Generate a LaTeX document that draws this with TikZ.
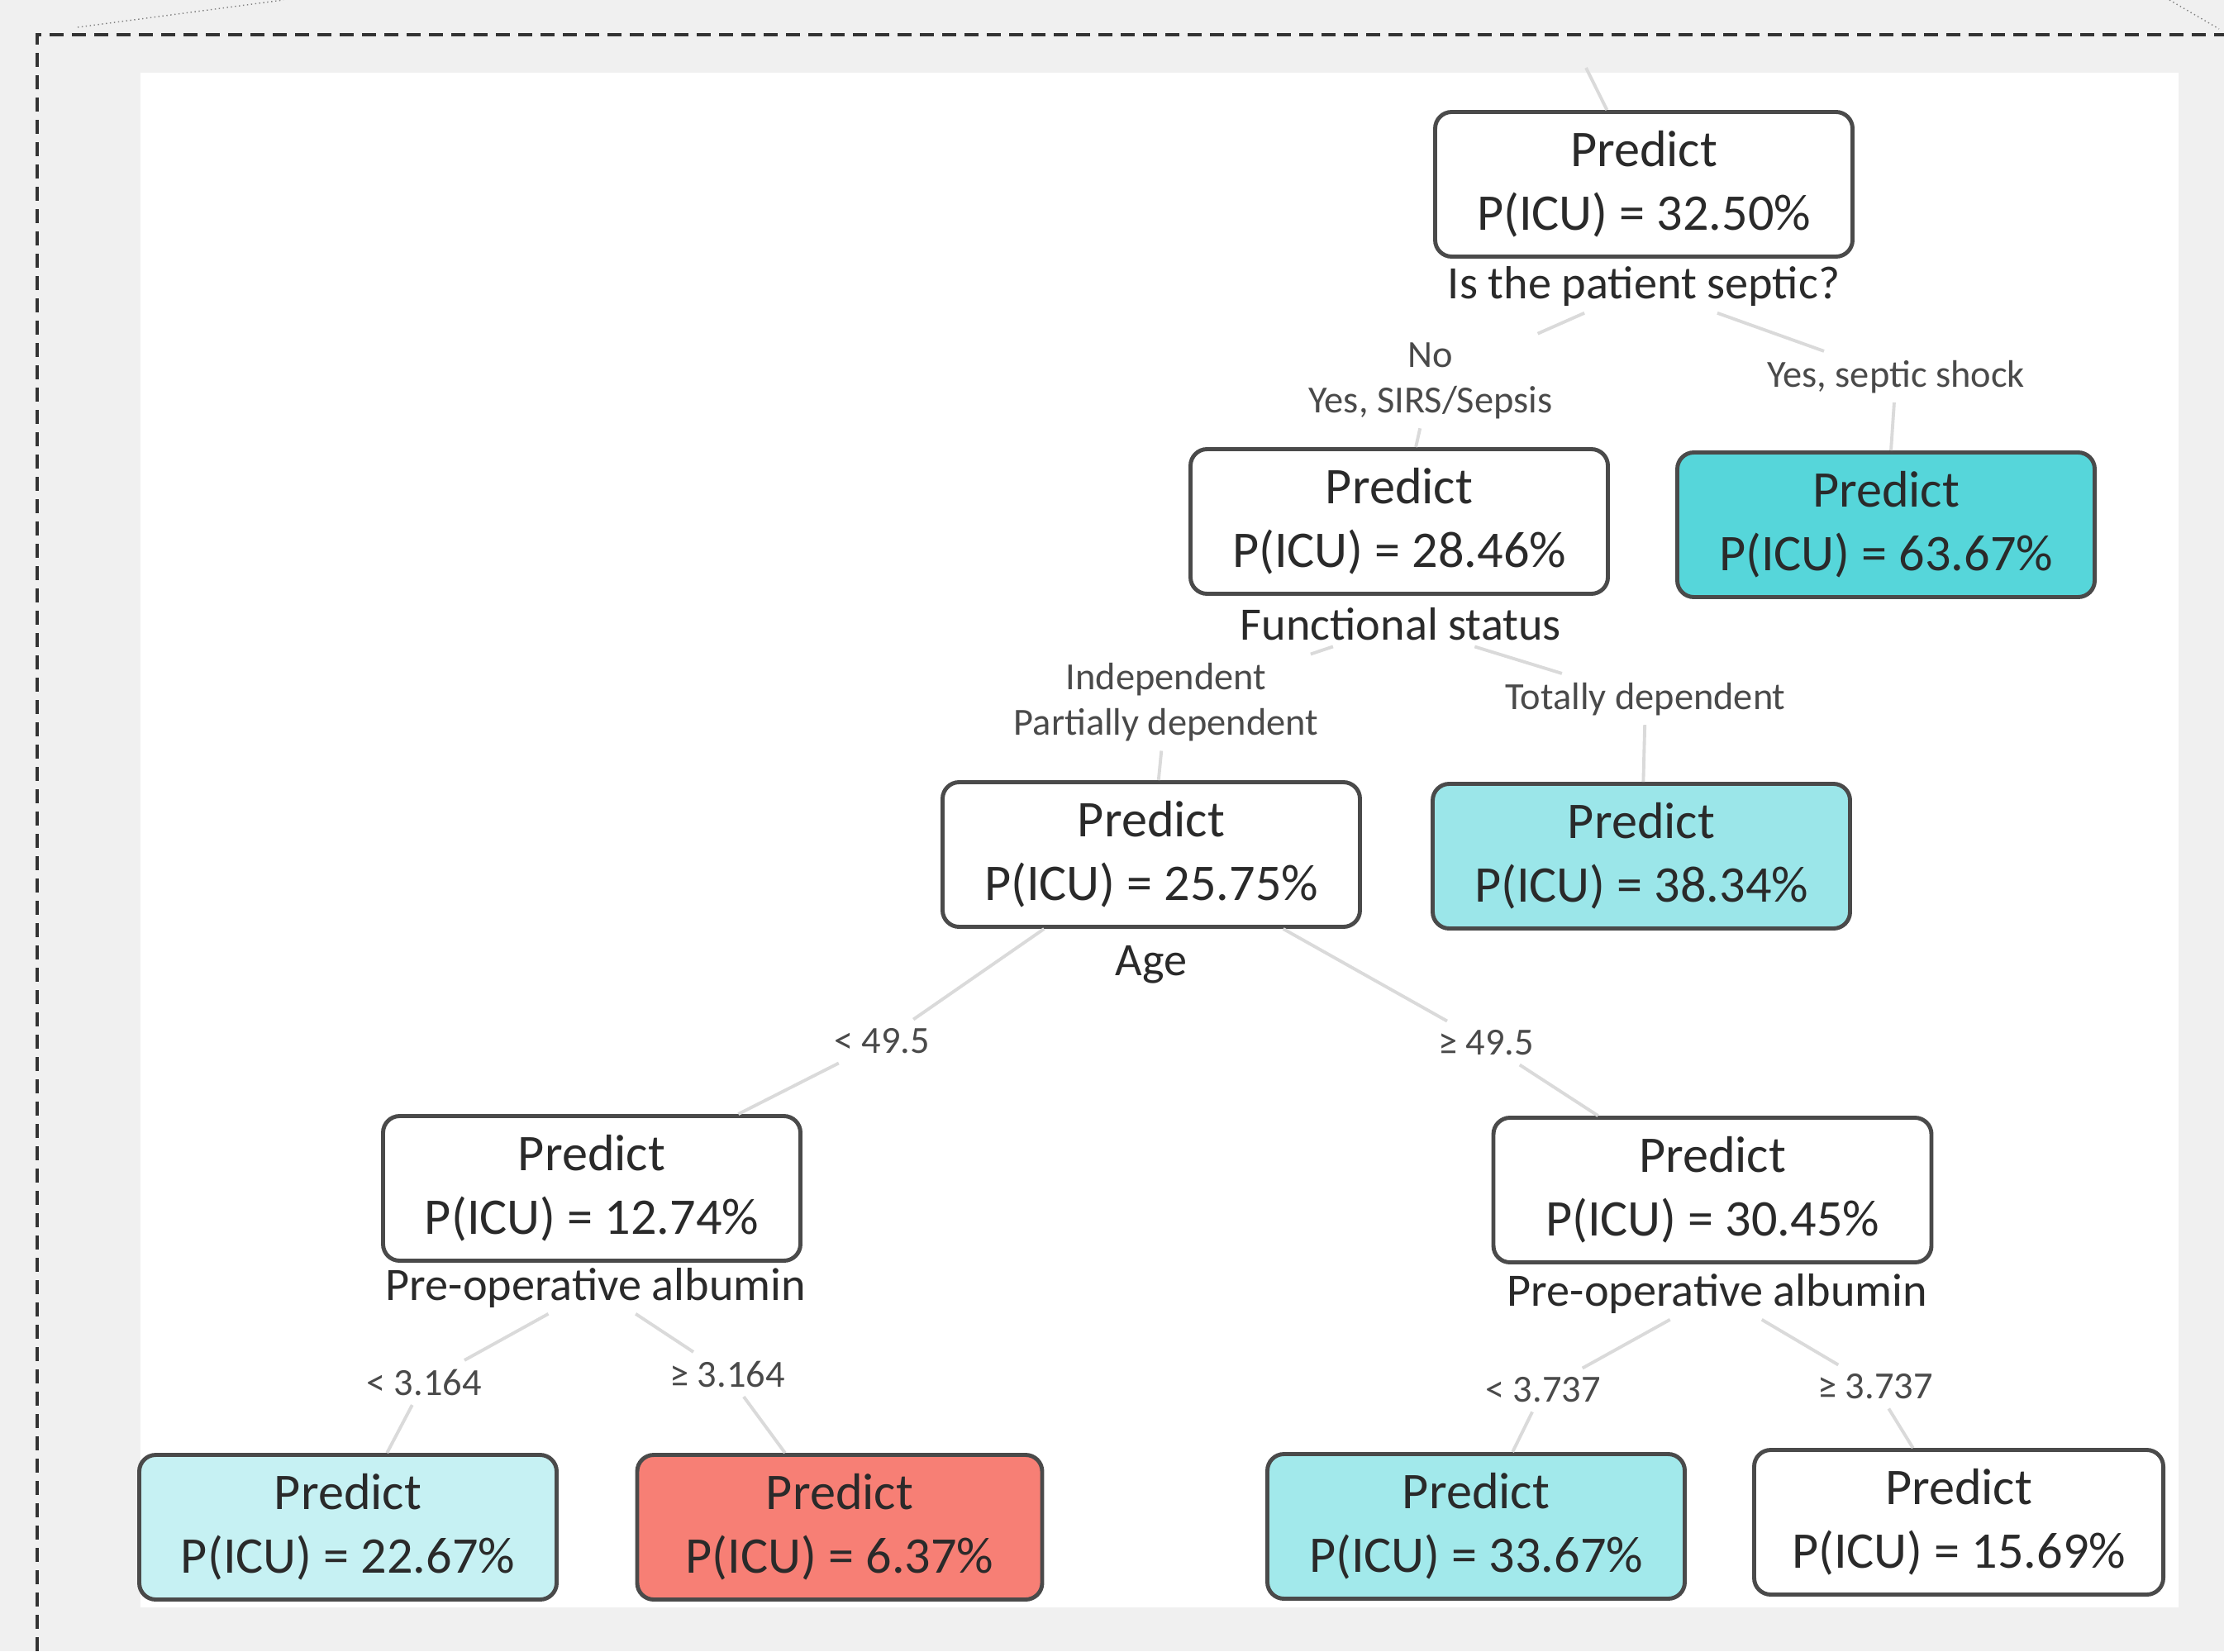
\documentclass[tikz,border=0pt]{standalone}
\usepackage{fontspec}
\setmainfont{Carlito}
\usepackage{tikz}
\usetikzlibrary{calc}

\definecolor{panelgray}{HTML}{F0F0F0}
\definecolor{boxline}{HTML}{4A4A4A}
\definecolor{txtgray}{HTML}{2A2A2A}
\definecolor{lblgray}{HTML}{4A4A4A}
\definecolor{edgegray}{HTML}{DADADA}
\definecolor{tealA}{HTML}{56D6DA}
\definecolor{tealB}{HTML}{9BE6E9}
\definecolor{tealC}{HTML}{A2E9EB}
\definecolor{tealD}{HTML}{C6F1F3}
\definecolor{salmon}{HTML}{F77F75}

\begin{document}
\begin{tikzpicture}[
    leaf/.style={draw=boxline, line width=1.4pt, rounded corners=0.2cm, fill=white, minimum width=5.05cm, minimum height=1.75cm, align=center, text=txtgray, font=\fontsize{17.7}{22}\selectfont},
    split/.style={text=txtgray, inner sep=2pt, font=\fontsize{16}{19}\selectfont},
    cond/.style={text=lblgray, align=center, inner sep=3pt, font=\fontsize{13.2}{15.6}\selectfont},
    edge/.style={draw=edgegray, line width=1.1pt}
]
    % background, panel and dashed frame
    \fill[panelgray] (0, 0) rectangle (26.91, -19.98);
    \useasboundingbox (0, 0) rectangle (26.91, -19.98);
    \fill[white] (1.70, -0.88) rectangle (26.36, -19.45);
    \draw[line width=1.1pt, black!80, dash pattern=on 0.17cm off 0.1cm] (0.45, -19.98) -- (0.45, -0.42) -- (26.91, -0.42);
    \draw[gray, densely dotted] (0.94, -0.33) -- (3.43, 0);
    \draw[gray, densely dotted] (26.25, 0) -- (26.85, -0.35);

    % tree nodes
    \node[leaf] (root) at (19.89, -2.23) {Predict\\P(ICU) = 32.50\%};
    \node[split] (s0) at (19.89, -3.47) {Is the patient septic?};

    \node[leaf] (n1) at (16.93, -6.31) {Predict\\P(ICU) = 28.46\%};
    \node[split] (s1) at (16.95, -7.55) {Functional status};
    \node[leaf, fill=tealA] (n2) at (22.82, -6.35) {Predict\\P(ICU) = 63.67\%};

    \node[leaf] (n3) at (13.93, -10.34) {Predict\\P(ICU) = 25.75\%};
    \node[split] (s3) at (13.93, -11.67) {Age};
    \node[leaf, fill=tealB] (n4) at (19.86, -10.36) {Predict\\P(ICU) = 38.34\%};

    \node[leaf] (n5) at (7.16, -14.38) {Predict\\P(ICU) = 12.74\%};
    \node[split] (s5) at (7.21, -15.58) {Pre-operative albumin};
    \node[leaf, minimum width=5.3cm] (n6) at (20.72, -14.40) {Predict\\P(ICU) = 30.45\%};
    \node[split] (s6) at (20.78, -15.65) {Pre-operative albumin};

    \node[leaf, fill=tealD] (n7) at (4.21, -18.48) {Predict\\P(ICU) = 22.67\%};
    \node[leaf, fill=salmon, minimum width=4.9cm] (n8) at (10.16, -18.48) {Predict\\P(ICU) = 6.37\%};
    \node[leaf, fill=tealC] (n9) at (17.86, -18.47) {Predict\\P(ICU) = 33.67\%};
    \node[leaf, minimum width=4.95cm] (n10) at (23.70, -18.42) {Predict\\P(ICU) = 15.69\%};

    % branch conditions
    \node[cond] (e1) at (17.31, -4.61) {No\\Yes, SIRS/Sepsis};
    \node[cond] (e2) at (22.94, -4.56) {Yes, septic shock};
    \node[cond] (e3) at (14.11, -8.50) {Independent\\Partially dependent};
    \node[cond] (e4) at (19.91, -8.46) {Totally dependent};
    \node[cond] (e5) at (10.67, -12.60) {< 49.5};
    \node[cond] (e6) at (17.98, -12.62) {≥ 49.5};
    \node[cond] (e7) at (5.13, -16.73) {< 3.164};
    \node[cond] (e8) at (8.80, -16.63) {≥ 3.164};
    \node[cond] (e9) at (18.67, -16.82) {< 3.737};
    \node[cond] (e10) at (22.69, -16.78) {≥ 3.737};

    % connectors
    \coordinate (up) at (19.19, -0.82);
    \draw[edge] (up) -- (root);
    \draw[edge] (s0) -- (e1) -- (n1);
    \draw[edge] (s0) -- (e2) -- (n2);
    \draw[edge] (s1) -- (e3) -- (n3);
    \draw[edge] (s1) -- (e4) -- (n4);
    \draw[edge] (n3) -- (e5) -- (n5);
    \draw[edge] (n3) -- (e6) -- (n6);
    \draw[edge] (s5) -- (e7) -- (n7);
    \draw[edge] (s5) -- (e8) -- (n8);
    \draw[edge] (s6) -- (e9) -- (n9);
    \draw[edge] (s6) -- (e10) -- (n10);
\end{tikzpicture}
\end{document}
